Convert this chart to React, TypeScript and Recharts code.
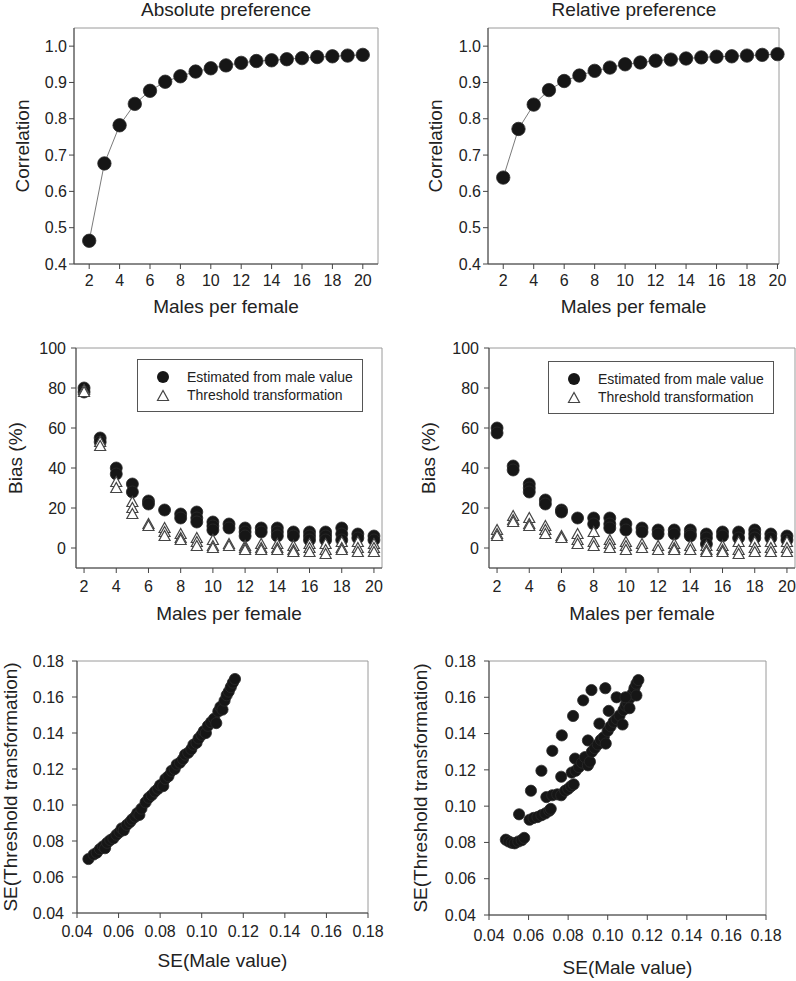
import React from 'react'
import { ScatterChart, Scatter, XAxis, YAxis, ReferenceArea, Legend, Label } from 'recharts'

const FONT = '"Liberation Sans", Arial, sans-serif'

const males = [2, 3, 4, 5, 6, 7, 8, 9, 10, 11, 12, 13, 14, 15, 16, 17, 18, 19, 20]
const maleTicks = [2, 4, 6, 8, 10, 12, 14, 16, 18, 20]
const corrTicks = [0.4, 0.5, 0.6, 0.7, 0.8, 0.9, 1.0]
const biasTicks = [0, 20, 40, 60, 80, 100]
const seTicks = [0.04, 0.06, 0.08, 0.1, 0.12, 0.14, 0.16, 0.18]

// correlation, one value per males-per-female
const absCorr = [0.464, 0.677, 0.782, 0.841, 0.877, 0.902, 0.917, 0.93, 0.939, 0.947, 0.954, 0.959, 0.961, 0.964, 0.967, 0.97, 0.972, 0.974, 0.976]
const relCorr = [0.638, 0.772, 0.839, 0.879, 0.904, 0.919, 0.932, 0.941, 0.95, 0.955, 0.96, 0.963, 0.966, 0.969, 0.971, 0.972, 0.974, 0.976, 0.978]

// bias (%), several replicates per males-per-female
const absBiasMale = [[80, 78], [55, 53], [40, 37], [32, 28], [23.5, 22], [19], [17, 15], [18, 15, 13], [13, 11, 9], [12, 10], [10, 8, 6], [10, 8], [10, 8, 6], [8, 6], [8, 6, 4], [8, 6, 4], [10, 7, 4], [7, 5], [6, 4]]
const absBiasThresh = [[79, 78], [53, 51], [33, 30], [23, 20, 17], [12, 11], [10, 8, 6], [7, 5, 4], [5, 3, 1], [4, 1, 0], [2, 1], [1, 0, -1], [2, 0, -1], [2, 0, -1], [1, -1, -2], [2, 0, -2], [2, -1, -3], [3, 0, -1], [3, 0, -2], [2, 0, -2]]
const relBiasMale = [[60, 57.5], [41, 39], [32, 30, 28], [24, 22], [19, 18], [15], [15, 12], [15, 12, 10], [12, 9], [10, 8], [9, 7], [9, 7], [9, 7, 6], [7, 5, 2], [8, 6], [8, 5], [9, 7, 5], [7, 5], [6, 4]]
const relBiasThresh = [[9, 7, 6], [16, 14, 13], [15, 12, 11], [11, 9, 7], [6, 5], [7, 4, 2], [8, 3, 1], [4, 2, 0], [3, 1, -1], [2, 0], [1, -1], [2, 0, -1], [1, -1], [1, -1, -2], [1, -1, -2], [3, -1, -3], [3, 0, -2], [3, 0, -2], [3, 0, -2]]

// SE(male value) vs SE(threshold transformation)
const absSE = [
  [0.0455, 0.07], [0.048, 0.0725], [0.0495, 0.0735], [0.051, 0.0755], [0.0525, 0.077], [0.0535, 0.076],
  [0.0545, 0.079], [0.056, 0.0805], [0.0575, 0.0815], [0.059, 0.0835], [0.0605, 0.085], [0.0615, 0.087],
  [0.0625, 0.086], [0.064, 0.089], [0.0655, 0.0905], [0.0665, 0.092], [0.068, 0.0935], [0.069, 0.0955],
  [0.07, 0.0945], [0.071, 0.098], [0.073, 0.1015], [0.0745, 0.104], [0.076, 0.1055], [0.0775, 0.1075],
  [0.079, 0.109], [0.08, 0.111], [0.0815, 0.1105], [0.0825, 0.1145], [0.084, 0.116], [0.0855, 0.119],
  [0.087, 0.12], [0.088, 0.1225], [0.0895, 0.1235], [0.091, 0.1255], [0.092, 0.128], [0.0935, 0.129],
  [0.095, 0.131], [0.096, 0.1335], [0.0975, 0.1345], [0.0985, 0.137], [0.1, 0.139], [0.101, 0.141],
  [0.102, 0.14], [0.103, 0.144], [0.1045, 0.146], [0.106, 0.148], [0.107, 0.1455], [0.108, 0.152],
  [0.109, 0.1545], [0.11, 0.153], [0.111, 0.158], [0.112, 0.161], [0.113, 0.163], [0.114, 0.1655],
  [0.115, 0.168], [0.116, 0.17],
]
const relSE = [
  [0.0485, 0.0815], [0.05, 0.0805], [0.0515, 0.0798], [0.053, 0.0795], [0.0548, 0.0805], [0.0565, 0.0812],
  [0.0578, 0.0825], [0.0552, 0.0955], [0.0612, 0.1085], [0.0665, 0.1195], [0.072, 0.1305], [0.0768, 0.139],
  [0.0825, 0.1497], [0.0876, 0.1583], [0.0918, 0.164], [0.0988, 0.165], [0.1005, 0.1525], [0.1045, 0.16],
  [0.0958, 0.1455], [0.09, 0.1362], [0.0835, 0.1262], [0.0765, 0.1162], [0.0605, 0.0925], [0.0625, 0.0935],
  [0.0645, 0.094], [0.0665, 0.095], [0.0685, 0.096], [0.0705, 0.0975], [0.0712, 0.0985], [0.069, 0.105],
  [0.072, 0.106], [0.0745, 0.1065], [0.0765, 0.106], [0.0785, 0.1085], [0.08, 0.1095], [0.0815, 0.111],
  [0.0828, 0.112], [0.0818, 0.1185], [0.0838, 0.1195], [0.0855, 0.1215], [0.087, 0.124], [0.0885, 0.127],
  [0.09, 0.1225], [0.091, 0.1245], [0.092, 0.13], [0.0935, 0.132], [0.095, 0.134], [0.0965, 0.1365],
  [0.098, 0.138], [0.099, 0.1345], [0.1, 0.1415], [0.1015, 0.144], [0.103, 0.1465], [0.1045, 0.148],
  [0.106, 0.15], [0.1075, 0.145], [0.108, 0.153], [0.109, 0.1555], [0.11, 0.157], [0.111, 0.154],
  [0.1115, 0.16], [0.1125, 0.162], [0.1135, 0.165], [0.1145, 0.1675], [0.1155, 0.1695], [0.1145, 0.161],
  [0.109, 0.16],
]

const corrData = (vals: number[]) => males.map((m, i) => ({ x: m, y: vals[i] }))
const biasData = (vals: number[][]) => males.flatMap((m, i) => vals[i].map((v) => ({ x: m, y: v })))
const seData = (pairs: number[][]) => pairs.map(([x, y]) => ({ x, y }))

const dot = (r: number) => (props: any) => <circle cx={props.cx} cy={props.cy} r={r} fill="#161616" stroke="#2a2a2a" strokeWidth={0.8} />
const tri = (props: any) => {
  const { cx, cy } = props
  return <polygon points={`${cx},${cy - 5.5} ${cx - 5.5},${cy + 4.5} ${cx + 5.5},${cy + 4.5}`} fill="#fff" stroke="#444" strokeWidth={1.2} />
}

const BiasLegend = () => (
  <svg width={226} height={53} style={{ display: 'block' }}>
    <rect x={0.5} y={0.5} width={225} height={52} fill="#fff" stroke="#555" />
    <circle cx={26} cy={18} r={6} fill="#161616" />
    <polygon points="26,31.5 20.5,41.5 31.5,41.5" fill="#fff" stroke="#444" strokeWidth={1.2} />
    <text x={50} y={23} fontSize={14} fill="#222" fontFamily={FONT}>Estimated from male value</text>
    <text x={50} y={41} fontSize={14} fill="#222" fontFamily={FONT}>Threshold transformation</text>
  </svg>
)

type PanelProps = {
  left: number
  top: number
  width: number
  height: number
  mTop: number
  mRight: number
  yWidth: number
  xHeight: number
  xDomain: [number, number]
  yDomain: [number, number]
  xTicks: number[]
  yTicks: number[]
  xDigits: number
  yDigits: number
  xLabel: string
  yLabel: string
  xLabelOffset: number
  yLabelOffset: number
  xTickMargin: number
  yTickMargin: number
  children: React.ReactNode
}

const Panel = (p: PanelProps) => (
  <div style={{ position: 'absolute', left: p.left, top: p.top }}>
    <ScatterChart width={p.width} height={p.height} margin={{ top: p.mTop, right: p.mRight, bottom: 0, left: 0 }}>
      <XAxis
        type="number"
        dataKey="x"
        domain={p.xDomain}
        ticks={p.xTicks}
        tickFormatter={(v: number) => (p.xDigits ? v.toFixed(p.xDigits) : String(v))}
        height={p.xHeight}
        stroke="#444"
        tickSize={5}
        tickMargin={p.xTickMargin}
        tick={{ fill: '#222', fontSize: 16 }}
        interval={0}
      >
        <Label value={p.xLabel} position="insideBottom" offset={p.xLabelOffset} style={{ fontSize: 19, fill: '#222' }} />
      </XAxis>
      <YAxis
        type="number"
        dataKey="y"
        domain={p.yDomain}
        ticks={p.yTicks}
        tickFormatter={(v: number) => (p.yDigits ? v.toFixed(p.yDigits) : String(v))}
        width={p.yWidth}
        stroke="#444"
        tickSize={5}
        tickMargin={p.yTickMargin}
        tick={{ fill: '#222', fontSize: 16 }}
        interval={0}
      >
        <Label value={p.yLabel} angle={-90} position="insideLeft" offset={p.yLabelOffset} style={{ fontSize: 19, fill: '#222', textAnchor: 'middle' }} />
      </YAxis>
      <ReferenceArea x1={p.xDomain[0]} x2={p.xDomain[1]} y1={p.yDomain[0]} y2={p.yDomain[1]} fill="none" stroke="#9a9a9a" strokeWidth={1} />
      {p.children}
    </ScatterChart>
  </div>
)

const title = (text: string, cx: number) => (
  <div style={{ position: 'absolute', left: cx - 150, top: 0, width: 300, textAlign: 'center', fontSize: 19, lineHeight: '20px', color: '#222' }}>{text}</div>
)

const App = () => (
  <div style={{ position: 'absolute', left: 0, top: 0, width: 796, height: 981, background: '#fff', fontFamily: FONT, overflow: 'hidden' }}>
    {title('Absolute preference', 226)}
    {title('Relative preference', 634)}

    <Panel left={0} top={0} width={388} height={320} mTop={28} mRight={10} yWidth={74} xHeight={56}
      xDomain={[1, 21]} yDomain={[0.4, 1.05]} xTicks={maleTicks} yTicks={corrTicks} xDigits={0} yDigits={1}
      xLabel="Males per female" yLabel="Correlation" xLabelOffset={7} yLabelOffset={22} xTickMargin={6} yTickMargin={2}>
      <Scatter data={corrData(absCorr)} line={{ stroke: '#7a7a7a', strokeWidth: 1 }} lineType="joint" shape={dot(6.7)} isAnimationActive={false} />
    </Panel>

    <Panel left={398} top={0} width={389} height={320} mTop={28} mRight={8} yWidth={90} xHeight={56}
      xDomain={[1, 20.1]} yDomain={[0.4, 1.05]} xTicks={maleTicks} yTicks={corrTicks} xDigits={0} yDigits={1}
      xLabel="Males per female" yLabel="Correlation" xLabelOffset={7} yLabelOffset={37} xTickMargin={6} yTickMargin={2}>
      <Scatter data={corrData(relCorr)} line={{ stroke: '#7a7a7a', strokeWidth: 1 }} lineType="joint" shape={dot(6.7)} isAnimationActive={false} />
    </Panel>

    <Panel left={0} top={320} width={392} height={304} mTop={28} mRight={10} yWidth={76} xHeight={56}
      xDomain={[1.5, 20.5]} yDomain={[-10, 100]} xTicks={maleTicks} yTicks={biasTicks} xDigits={0} yDigits={0}
      xLabel="Males per female" yLabel="Bias (%)" xLabelOffset={4} yLabelOffset={15} xTickMargin={8} yTickMargin={5}>
      <Scatter data={biasData(absBiasMale)} shape={dot(6)} isAnimationActive={false} />
      <Scatter data={biasData(absBiasThresh)} shape={tri} isAnimationActive={false} />
      <Legend layout="vertical" align="center" verticalAlign="middle" content={() => <BiasLegend />}
        wrapperStyle={{ left: 137, top: 39, width: 226, height: 53 }} />
    </Panel>

    <Panel left={398} top={320} width={398} height={304} mTop={28} mRight={1} yWidth={91} xHeight={56}
      xDomain={[1.5, 20.5]} yDomain={[-10, 100]} xTicks={maleTicks} yTicks={biasTicks} xDigits={0} yDigits={0}
      xLabel="Males per female" yLabel="Bias (%)" xLabelOffset={4} yLabelOffset={30} xTickMargin={8} yTickMargin={5}>
      <Scatter data={biasData(relBiasMale)} shape={dot(6)} isAnimationActive={false} />
      <Scatter data={biasData(relBiasThresh)} shape={tri} isAnimationActive={false} />
      <Legend layout="vertical" align="center" verticalAlign="middle" content={() => <BiasLegend />}
        wrapperStyle={{ left: 150, top: 41, width: 226, height: 53 }} />
    </Panel>

    <Panel left={0} top={630} width={392} height={343} mTop={31} mRight={24} yWidth={77} xHeight={60}
      xDomain={[0.04, 0.18]} yDomain={[0.04, 0.18]} xTicks={seTicks} yTicks={seTicks} xDigits={2} yDigits={2}
      xLabel="SE(Male value)" yLabel="SE(Threshold transformation)" xLabelOffset={6} yLabelOffset={10} xTickMargin={8} yTickMargin={8}>
      <Scatter data={seData(absSE)} shape={dot(5.6)} isAnimationActive={false} />
    </Panel>

    <Panel left={398} top={630} width={392} height={351} mTop={31} mRight={24} yWidth={91} xHeight={66}
      xDomain={[0.04, 0.18]} yDomain={[0.04, 0.18]} xTicks={seTicks} yTicks={seTicks} xDigits={2} yDigits={2}
      xLabel="SE(Male value)" yLabel="SE(Threshold transformation)" xLabelOffset={7} yLabelOffset={22} xTickMargin={10} yTickMargin={8}>
      <Scatter data={seData(relSE)} shape={dot(5.6)} isAnimationActive={false} />
    </Panel>
  </div>
)

export default App
